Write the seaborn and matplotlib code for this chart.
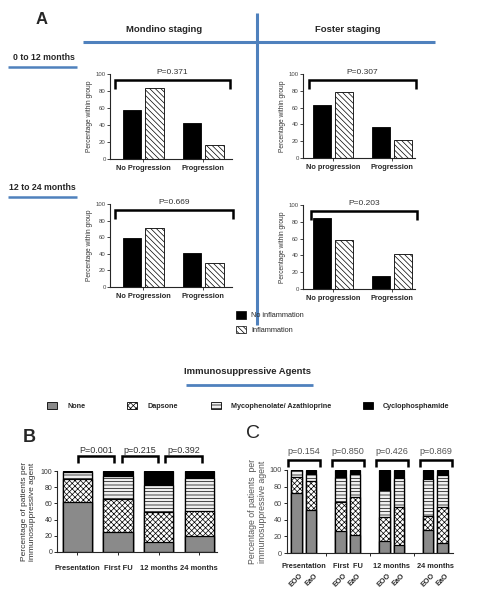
import matplotlib
matplotlib.use("Agg")
import matplotlib.pyplot as plt
import seaborn as sns
import pandas as pd
from matplotlib.patches import Patch
from matplotlib.lines import Line2D

sns.set_theme(style="ticks")
plt.rcParams['font.family'] = ['Liberation Sans', 'DejaVu Sans']
plt.rcParams['hatch.linewidth'] = 0.5
plt.rcParams['axes.linewidth'] = 0.8

# ---------------- data ----------------
a_hues = ["No inflammation", "Inflammation"]
mondino_cats = ["No Progression", "Progression"]
foster_cats = ["No progression", "Progression"]
mondino_0_12_noinf = [58, 42]
mondino_0_12_inf = [83, 17]
foster_0_12_noinf = [63, 37]
foster_0_12_inf = [78, 22]
mondino_12_24_noinf = [59, 41]
mondino_12_24_inf = [71, 29]
foster_12_24_noinf = [84, 16]
foster_12_24_inf = [58, 42]
a_pvalues = ["P=0.371", "P=0.307", "P=0.669", "P=0.203"]

agents = ["None", "Dapsone", "Mycophenolate/ Azathioprine", "Cyclophosphamide"]
b_timepoints = ["Presentation", "First FU", "12 months", "24 months"]
b_none = [62, 25, 12, 20]
b_dapsone = [28, 40, 37, 31]
b_myco = [9, 29, 34, 40]
b_cyclo = [1, 6, 17, 9]
b_pvalues = ["P=0.001", "p=0.215", "p=0.392"]

c_timepoints = ["Presentation", "First  FU", "12 months", "24 months"]
c_groups = ["EOO", "EaO"]
c_none = [72, 52, 27, 22, 14, 10, 28, 12]
c_dapsone = [20, 35, 34, 46, 29, 45, 17, 44]
c_myco = [8, 8, 31, 27, 33, 35, 44, 38]
c_cyclo = [0, 5, 8, 5, 24, 10, 11, 6]
c_pvalues = ["p=0.154", "p=0.850", "p=0.426", "p=0.869"]

# ---------------- styles ----------------
BLUE = '#4f81bd'
agent_colors = ['#8a8a8a', 'white', '#f0f0f0', 'black']
agent_hatches = ['', 'xxxxxx', '-----', '']
BOLD_FAM = ['Liberation Sans', 'DejaVu Sans']

W, H = 487, 599
fig = plt.figure(figsize=(W / 100, H / 100), dpi=100)


def px_axes(l, t, r, b):
    return fig.add_axes([l / W, 1 - b / H, (r - l) / W, (b - t) / H])


def ftext(x, y, s, **kw):
    fig.text(x / W, 1 - y / H, s, **kw)


def hline(x0, x1, y, lw=2.2):
    fig.add_artist(Line2D([x0 / W, x1 / W], [1 - y / H, 1 - y / H], color=BLUE, lw=lw, solid_capstyle='butt'))


def vline(x, y0, y1, lw=2.2):
    fig.add_artist(Line2D([x / W, x / W], [1 - y0 / H, 1 - y1 / H], color=BLUE, lw=lw, solid_capstyle='butt'))


def bracket(ax, x0, x1, y_top, y_leg, label, text_y, fs, lw=1.8, color='#333333'):
    ax.plot([x0, x0, x1, x1], [y_leg, y_top, y_top, y_leg], color='black', lw=lw,
            clip_on=False, solid_joinstyle='miter', solid_capstyle='butt')
    ax.text((x0 + x1) / 2, text_y, label, ha='center', va='bottom', fontsize=fs, color=color)


# ---------------- panel A ----------------
def panel_a(box, cats, noinf, inf, pval, xlim, bx):
    ax = px_axes(*box)
    df = pd.DataFrame({"group": cats * 2,
                       "status": [a_hues[0]] * 2 + [a_hues[1]] * 2,
                       "pct": noinf + inf})
    sns.barplot(data=df, x="group", y="pct", hue="status", hue_order=a_hues,
                palette=["black", "white"], saturation=1, edgecolor="black",
                linewidth=0.6, width=0.76, gap=0.2, legend=False, ax=ax)
    for p in ax.containers[1]:
        p.set_hatch("\\\\\\\\\\\\")
    ax.set_xlim(*xlim)
    ax.set_ylim(0, 100)
    ax.set_yticks([0, 20, 40, 60, 80, 100])
    ax.tick_params(axis='y', labelsize=4.3, length=2, width=0.6, pad=1, labelcolor='#444444')
    ax.tick_params(axis='x', length=2, width=0.6, pad=2)
    for lab in ax.get_xticklabels():
        lab.set_fontsize(5.3)
        lab.set_fontweight('bold')
    ax.set_xlabel("")
    ax.set_ylabel("Percentage within group", fontsize=4.8, color='#333333', labelpad=2)
    sns.despine(ax=ax)
    bracket(ax, bx[0], bx[1], 93, 82, pval, 98, 6)
    return ax


panel_a((110, 74, 232, 159), mondino_cats, mondino_0_12_noinf, mondino_0_12_inf,
        a_pvalues[0], (-0.55, 1.48), (-0.47, 1.45))
panel_a((303, 74, 415, 158), foster_cats, foster_0_12_noinf, foster_0_12_inf,
        a_pvalues[1], (-0.51, 1.39), (-0.41, 1.41))
panel_a((110, 204, 232, 287), mondino_cats, mondino_12_24_noinf, mondino_12_24_inf,
        a_pvalues[2], (-0.55, 1.48), (-0.47, 1.5))
panel_a((303, 205, 415, 289), foster_cats, foster_12_24_noinf, foster_12_24_inf,
        a_pvalues[3], (-0.51, 1.39), (-0.38, 1.43))

# header decorations
ftext(42, 20, "A", fontsize=12, fontweight='bold', ha='center', va='center')
ftext(164, 29, "Mondino staging", fontsize=6.8, fontweight='bold', ha='center', va='center')
ftext(348, 29, "Foster staging", fontsize=6.8, fontweight='bold', ha='center', va='center')
hline(83, 435, 42)
vline(257, 13, 325)
ftext(44, 58, "0 to 12 months", fontsize=6.3, fontweight='bold', ha='center', va='center')
hline(8, 77, 67, lw=1.8)
ftext(42, 187, "12 to 24 months", fontsize=6.3, fontweight='bold', ha='center', va='center')
hline(8, 77, 197, lw=1.8)

fig.legend(handles=[Patch(facecolor='black', edgecolor='black', lw=0.5),
                    Patch(facecolor='white', edgecolor='black', lw=0.5, hatch="\\\\\\\\\\\\")],
           labels=a_hues, loc='upper left', bbox_to_anchor=(236 / W, 1 - 311 / H),
           frameon=False, fontsize=5.3, handlelength=1.3, handleheight=1.2,
           handletextpad=0.8, labelspacing=0.9, borderpad=0, borderaxespad=0)

# ---------------- agents header/legend ----------------
ftext(248, 371, "Immunosuppressive Agents", fontsize=6.8, fontweight='bold', ha='center', va='center')
hline(186, 313, 385, lw=2.0)
leg_x = [47, 127, 211, 363]
for i, name in enumerate(agents):
    fig.legend(handles=[Patch(facecolor=agent_colors[i], edgecolor='black', lw=0.6, hatch=agent_hatches[i])],
               labels=[name], loc='center left', bbox_to_anchor=(leg_x[i] / W, 1 - 406 / H),
               frameon=False, handlelength=1.4, handleheight=1.1,
               handletextpad=1.4, borderpad=0, borderaxespad=0,
               prop={'size': 5.2, 'weight': 'bold'})


def stacked(ax, keys, parts, order=None, width=0.72):
    cum = [0] * len(keys)
    cums = []
    for part in parts:
        cum = [c + v for c, v in zip(cum, part)]
        cums.append(cum)
    for i in range(len(parts) - 1, -1, -1):
        sns.barplot(x=keys, y=cums[i], order=order, color=agent_colors[i], saturation=1,
                    edgecolor='black', linewidth=0.9, width=width, hatch=agent_hatches[i], ax=ax)


# ---------------- panel B ----------------
axb = px_axes(57, 471, 217, 552)
stacked(axb, b_timepoints, [b_none, b_dapsone, b_myco, b_cyclo])
axb.set_xlim(-0.5, 3.44)
axb.set_ylim(0, 100)
axb.set_yticks([0, 20, 40, 60, 80, 100])
axb.tick_params(axis='y', labelsize=5, length=2.5, width=0.7, pad=1, labelcolor='#333333')
axb.tick_params(axis='x', length=2.5, width=0.7, pad=7)
for lab in axb.get_xticklabels():
    lab.set_fontsize(5.4)
    lab.set_fontweight('bold')
axb.set_ylabel("Percentage of patients per\nimmunosuppressive agent", fontsize=6, color='#333333', labelpad=3)
sns.despine(ax=axb)
for i, p in enumerate(b_pvalues):
    bracket(axb, i * 1.08 + 0.01, i * 1.08 + 0.9, 118.5, 110, p, 120, 6.5)
ftext(29, 437, "B", fontsize=13, fontweight='bold', ha='center', va='center')

# ---------------- panel C ----------------
axc = px_axes(287, 470, 453, 553)
c_keys = [f"{t} {g}" for t in c_timepoints for g in c_groups]
c_order = []
for k in range(len(c_timepoints)):
    c_order += c_keys[2 * k:2 * k + 2]
    if k < len(c_timepoints) - 1:
        c_order.append(f"gap{k}")
stacked(axc, c_keys, [c_none, c_dapsone, c_myco, c_cyclo], order=c_order, width=0.72)
bar_pos = [i for i, k in enumerate(c_order) if not k.startswith("gap")]
gap_pos = [i for i, k in enumerate(c_order) if k.startswith("gap")]
axc.set_xticks(bar_pos)
axc.set_xticklabels(c_groups * len(c_timepoints), rotation=45, ha='center',
                    fontsize=5.2, fontweight='bold')
axc.set_xticks(gap_pos, minor=True)
axc.tick_params(axis='x', which='major', length=0, pad=14)
axc.tick_params(axis='x', which='minor', length=2.5, width=0.7)
axc.set_xlim(-0.65, 10.7)
axc.set_ylim(0, 100)
axc.set_yticks([0, 20, 40, 60, 80, 100])
axc.tick_params(axis='y', labelsize=5.3, length=2.5, width=0.7, pad=1, labelcolor='#444444')
axc.set_xlabel("")
axc.set_ylabel("Percentage of patients  per\nimmunosuppressive agent", fontsize=6.3, color='#555555', labelpad=2)
sns.despine(ax=axc)
for k, t in enumerate(c_timepoints):
    pos = bar_pos[2 * k:2 * k + 2]
    axc.text(sum(pos) / 2, -0.16, t, transform=axc.get_xaxis_transform(), ha='center', va='center',
             fontsize=5.3, fontweight='bold')
    bracket(axc, pos[0] - 0.55, pos[1] + 0.6, 112, 104, c_pvalues[k], 117, 6.5, color='#555555')
ftext(253, 433, "C", fontsize=14, ha='center', va='center')

fig.savefig("out.png", dpi=100, facecolor='white')
